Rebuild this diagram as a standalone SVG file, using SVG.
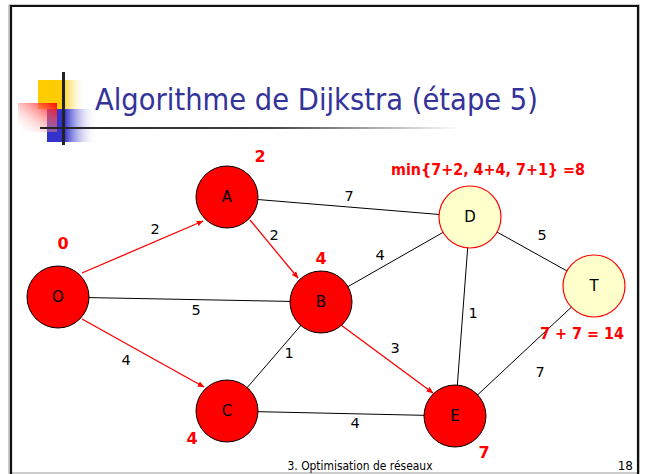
<svg xmlns="http://www.w3.org/2000/svg" width="645" height="474" viewBox="0 0 645 474">
<defs>
<style>
.edge{stroke:#000;stroke-width:1;fill:none}
.redge{stroke:#f00;stroke-width:1.3;fill:none;marker-end:url(#arr)}
.red{fill:#f00;stroke:#000;stroke-width:1}
.yel{fill:#ffffcc;stroke:#f00;stroke-width:1.2}
.nl{font-family:"DejaVu Sans",Verdana,sans-serif;font-size:15px;fill:#000;text-anchor:middle}
.el{font-family:"DejaVu Sans",Verdana,sans-serif;font-size:14.5px;fill:#000;text-anchor:middle}
.rl{font-family:"DejaVu Sans",Verdana,sans-serif;font-size:16px;font-weight:bold;fill:#f00;text-anchor:middle}
.ft{font-family:"DejaVu Sans",Verdana,sans-serif;font-size:12px;fill:#000}
</style>
<marker id="arr" viewBox="0 0 10 10" refX="9" refY="5" markerWidth="7" markerHeight="7" orient="auto" markerUnits="userSpaceOnUse">
<path d="M0,1 L10,5 L0,9 z" fill="#f00"/>
</marker>
<linearGradient id="gy" x1="0" y1="0" x2="1" y2="0"><stop offset="0.5" stop-color="#ffcc00"/><stop offset="1" stop-color="#fff" stop-opacity="0"/></linearGradient>
<linearGradient id="gb" x1="0" y1="0" x2="1" y2="0"><stop offset="0.35" stop-color="#3333cc"/><stop offset="1" stop-color="#fff" stop-opacity="0"/></linearGradient>
<linearGradient id="gr" x1="1" y1="0" x2="0" y2="1"><stop offset="0" stop-color="#ff0000"/><stop offset="1" stop-color="#fff" stop-opacity="0"/></linearGradient>
<linearGradient id="gl" x1="0" y1="0" x2="1" y2="0"><stop offset="0" stop-color="#222"/><stop offset="0.55" stop-color="#444"/><stop offset="1" stop-color="#fff"/></linearGradient>
</defs>
<rect x="0" y="0" width="645" height="474" fill="#fff"/>
<g id="frame">
<rect x="9" y="5" width="630" height="468" fill="none" stroke="#999" stroke-width="1"/>
<path d="M11,474 L11,6 L638,6 L638,474" fill="none" stroke="#111" stroke-width="2.2"/>
</g>
<g id="logo">
<rect x="38" y="80" width="48" height="29" fill="url(#gy)"/>
<rect x="47" y="109" width="50" height="33" fill="url(#gb)"/>
<rect x="18" y="103" width="39" height="29" fill="url(#gr)"/>
<rect x="40" y="127" width="420" height="2" fill="url(#gl)"/>
<rect x="62" y="72" width="3" height="73" fill="#222"/>
</g>
<text x="95" y="110" font-family="DejaVu Sans,Verdana,sans-serif" font-size="31" fill="#333399" textLength="443" lengthAdjust="spacingAndGlyphs">Algorithme de Dijkstra (étape 5)</text>
<g id="connectors">
<line class="edge" x1="227" y1="197" x2="470" y2="217"/>
<line class="edge" x1="321" y1="302" x2="470" y2="217"/>
<line class="edge" x1="470" y1="217" x2="594" y2="286"/>
<line class="edge" x1="470" y1="217" x2="455" y2="416"/>
<line class="edge" x1="321" y1="302" x2="227" y2="411"/>
<line class="edge" x1="227" y1="411" x2="455" y2="416"/>
<line class="edge" x1="455" y1="416" x2="594" y2="286"/>
<line class="edge" x1="58" y1="297" x2="321" y2="302"/>
<line class="redge" x1="82" y1="273" x2="203" y2="221"/>
<line class="redge" x1="250" y1="220" x2="298" y2="278"/>
<line class="redge" x1="82" y1="319" x2="204" y2="387"/>
<line class="redge" x1="341" y1="325" x2="433" y2="393"/>
</g>
<g id="edge-labels">
<text class="el" x="155" y="234">2</text>
<text class="el" x="274" y="240">2</text>
<text class="el" x="349" y="201">7</text>
<text class="el" x="380" y="260">4</text>
<text class="el" x="542" y="240">5</text>
<text class="el" x="196" y="315">5</text>
<text class="el" x="473" y="318">1</text>
<text class="el" x="289" y="358">1</text>
<text class="el" x="395" y="353">3</text>
<text class="el" x="126" y="365">4</text>
<text class="el" x="355" y="428">4</text>
<text class="el" x="540" y="377">7</text>
</g>
<g id="node-O"><circle class="red" cx="58" cy="297" r="31"/><text class="nl" x="58" y="302">O</text><text class="rl" x="63" y="249">0</text></g>
<g id="node-A"><circle class="red" cx="227" cy="197" r="31"/><text class="nl" x="227" y="202">A</text><text class="rl" x="260" y="162">2</text></g>
<g id="node-B"><circle class="red" cx="321" cy="302" r="31"/><text class="nl" x="321" y="307">B</text><text class="rl" x="321" y="264">4</text></g>
<g id="node-C"><circle class="red" cx="227" cy="411" r="31"/><text class="nl" x="227" y="416">C</text><text class="rl" x="192" y="444">4</text></g>
<g id="node-E"><circle class="red" cx="455" cy="416" r="31"/><text class="nl" x="455" y="421">E</text><text class="rl" x="484" y="458">7</text></g>
<g id="node-D"><circle class="yel" cx="470" cy="217" r="31"/><text class="nl" x="470" y="222">D</text><text class="rl" x="488" y="175" textLength="194" lengthAdjust="spacingAndGlyphs">min{7+2, 4+4, 7+1} =8</text></g>
<g id="node-T"><circle class="yel" cx="594" cy="286" r="31"/><text class="nl" x="594" y="291">T</text><text class="rl" x="582" y="339" textLength="84" lengthAdjust="spacingAndGlyphs">7 + 7 = 14</text></g>
<g id="footer">
<text class="ft" x="360" y="470" text-anchor="middle" textLength="145" lengthAdjust="spacingAndGlyphs">3. Optimisation de réseaux</text>
<text class="ft" x="633" y="470" text-anchor="end">18</text>
</g>
</svg>
